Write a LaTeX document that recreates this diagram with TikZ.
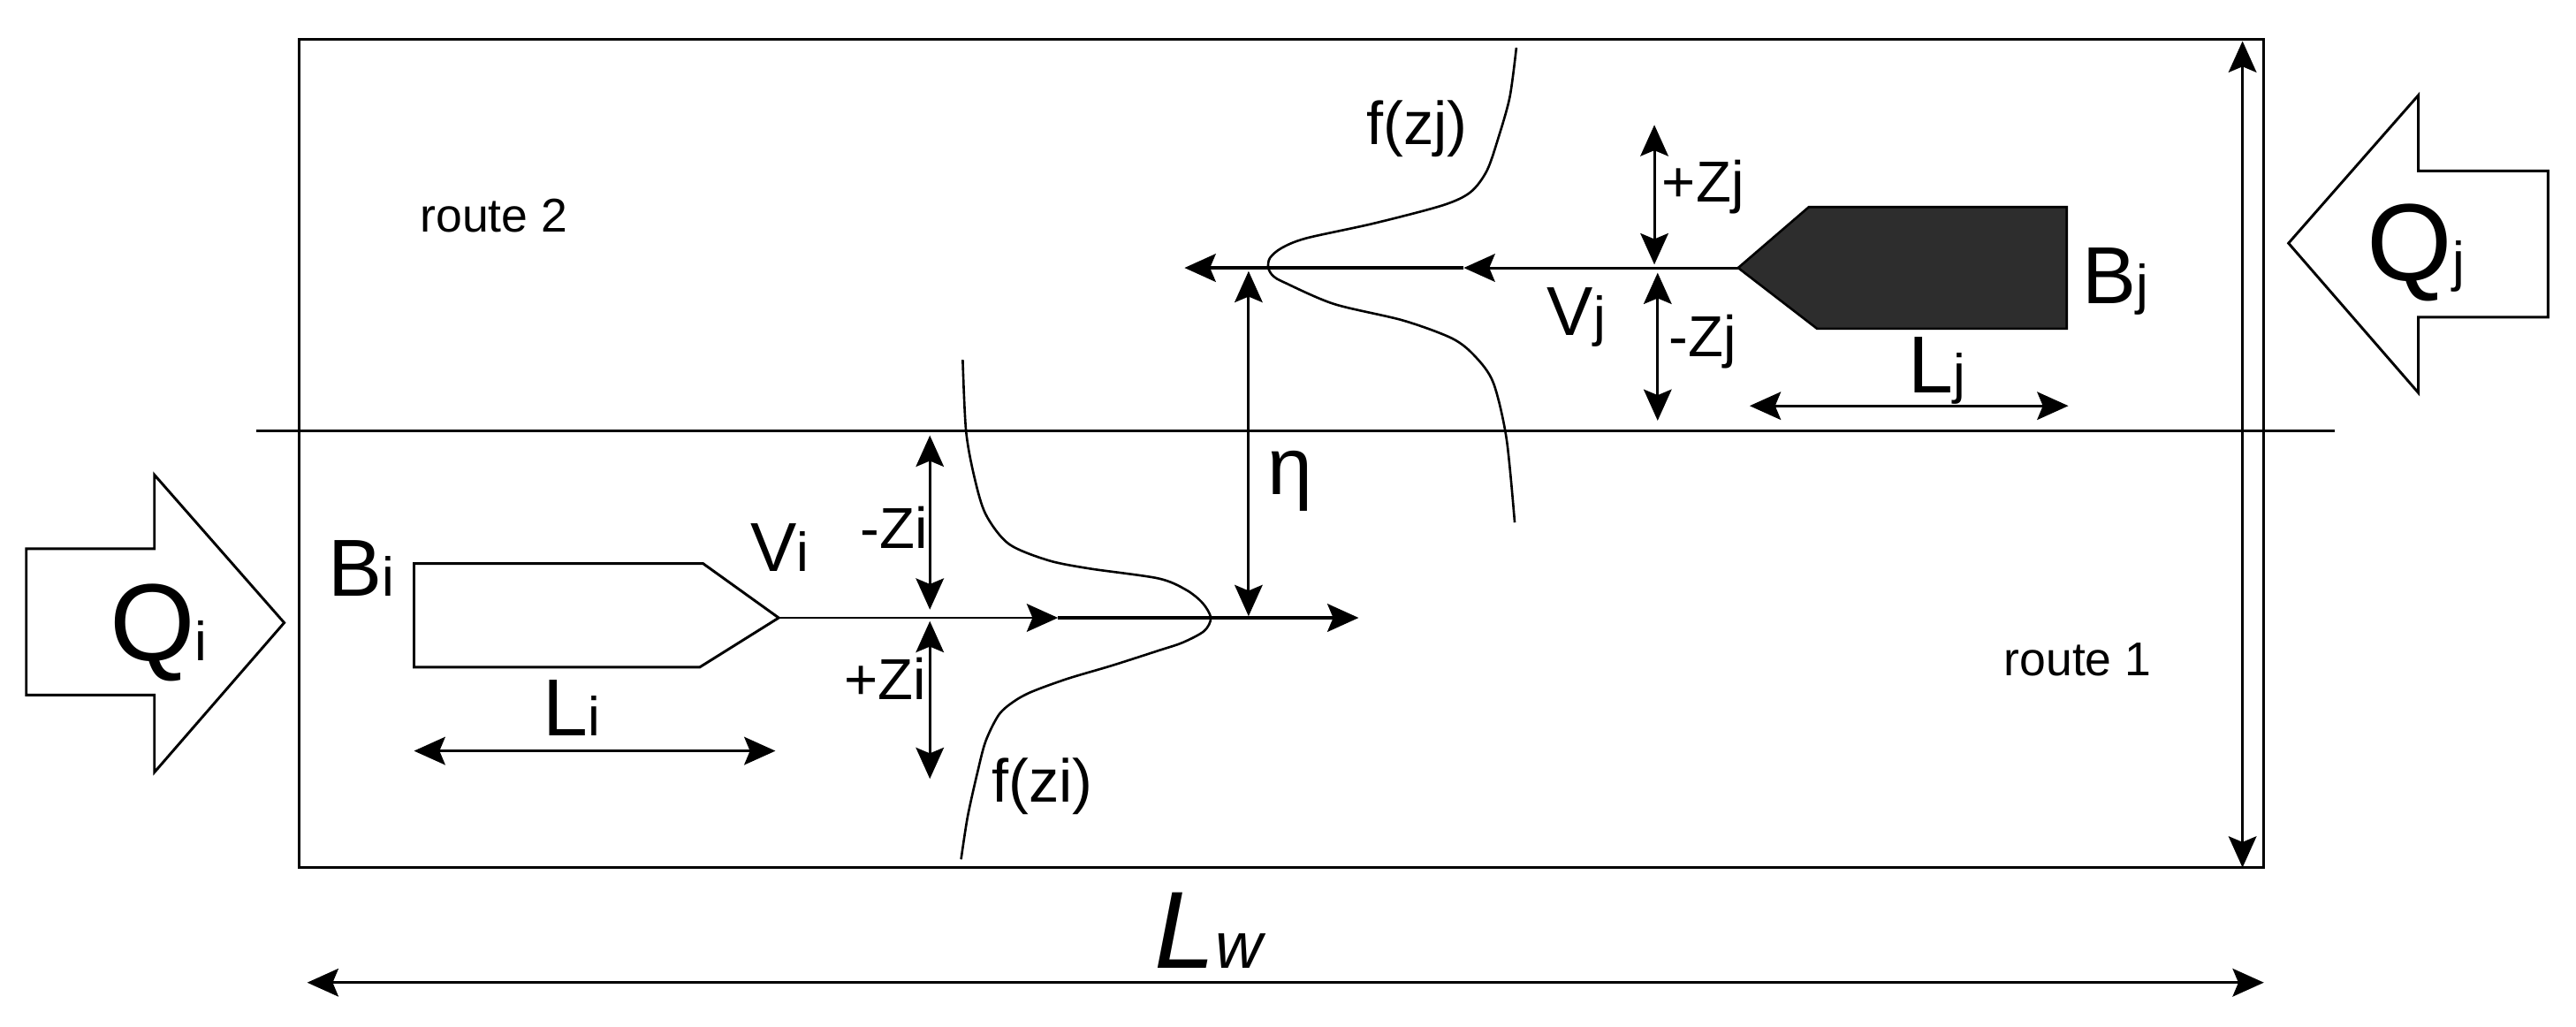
\documentclass[tikz,border=0pt]{standalone}
\usepackage{fontspec}
\setmainfont{Liberation Sans}
\usetikzlibrary{arrows.meta}
\definecolor{hull}{HTML}{2D2D2D}
\newcommand{\ix}[1]{{\fontsize{9.5}{9.5}\selectfont #1}}

\begin{document}
\begin{tikzpicture}[x=0.1mm,y=-0.1mm,line width=0.45pt,
	>={Stealth[length=1.9mm,width=1.7mm,inset=0.35mm]},
	lbl/.style={anchor=base west,inner sep=0pt},
	fntQ/.style={lbl,font=\fontsize{19}{19}\selectfont},
	fntB/.style={lbl,font=\fontsize{14}{14}\selectfont},
	fntV/.style={lbl,font=\fontsize{12}{12}\selectfont},
	fntZ/.style={lbl,font=\fontsize{10}{10}\selectfont},
	fntF/.style={lbl,font=\fontsize{10.5}{10.5}\selectfont},
	fntR/.style={lbl,font=\fontsize{8.2}{8.2}\selectfont},
	wake/.style={line width=0.6pt}]
\useasboundingbox (0,0) rectangle (1568,625);

\draw (182,24) rectangle (1378,528);
\draw (156,262) -- (1421,262);
\draw (16,334) -- (94,334) -- (94,289) -- (173,379) -- (94,470) -- (94,423) -- (16,423) -- cycle;
\draw (1393,148) -- (1472,58) -- (1472,104) -- (1551,104) -- (1551,193) -- (1472,193) -- (1472,239) -- cycle;
\draw (252,343) -- (428,343) -- (474,376) -- (426,406) -- (252,406) -- cycle;
\draw[fill=hull,thin] (1058,163) -- (1101,126) -- (1258,126) -- (1258,200) -- (1106,200) -- cycle;
\draw[thin] plot[smooth] coordinates {(586,219) (588,262) (593,290) (600,313) (614,331) (638,341)
	(663,346) (705,352) (722,359) (732,367) (737,376) (733,384) (720,391) (705,396) (677,405)
	(650,413) (628,421) (617,427) (608,435) (600,451) (595,470) (589,497) (585,523)};
\draw[thin] plot[smooth] coordinates {(923,29) (919,59) (912,84) (905,104) (895,117) (878,125)
	(836,136) (795,145) (780,151) (773,157) (772,163) (775,168) (782,172) (812,185) (854,195)
	(884,206) (898,217) (909,233) (917,267) (922,318)};

\coordinate (bowi)	at (474,376);
\coordinate (vi1)	at (644,376);
\coordinate (vi2)	at (827,376);
\coordinate (bowj)	at (1058,163);
\coordinate (vj1)	at (891,163);
\coordinate (vj2)	at (721,163);
\coordinate (li1)	at (252,457);
\coordinate (li2)	at (472,457);
\coordinate (lj1)	at (1065,247);
\coordinate (lj2)	at (1259,247);
\coordinate (lw1)	at (187,598);
\coordinate (lw2)	at (1378,598);
\coordinate (wd1)	at (1365,25);
\coordinate (wd2)	at (1365,528);
\coordinate (zi1)	at (566,265);
\coordinate (zi2)	at (566,371);
\coordinate (zi3)	at (566,378);
\coordinate (zi4)	at (566,474);
\coordinate (zj1)	at (1007,76);
\coordinate (zj2)	at (1007,161);
\coordinate (zj3)	at (1009,166);
\coordinate (zj4)	at (1009,256);
\coordinate (eta1)	at (760,165);
\coordinate (eta2)	at (760,375);

\path[->]	(bowi)	edge 		(vi1)
		(vi1)	edge [wake]	(vi2)
		(bowj)	edge 		(vj1)
		(vj1)	edge [wake]	(vj2);
\path[<->]	(li1)	edge	(li2)
		(lj1)	edge	(lj2)
		(lw1)	edge	(lw2)
		(wd1)	edge	(wd2)
		(zi1)	edge	(zi2)
		(zi3)	edge	(zi4)
		(zj1)	edge	(zj2)
		(zj3)	edge	(zj4)
		(eta1)	edge	(eta2);

\node[fntQ]	(qi)	at (66,402)	{Q\ix{i}};
\node[fntQ]	(qj)	at (1440,171)	{Q\ix{j}};
\node[fntB]	(bi)	at (199,363)	{B\ix{i}};
\node[fntB]	(bj)	at (1267,185)	{B\ix{j}};
\node[fntB]	(li)	at (330,448)	{L\ix{i}};
\node[fntB]	(lj)	at (1161,239)	{L\ix{j}};
\node[fntV]	(vi)	at (456,348)	{V\ix{i}};
\node[fntV]	(vj)	at (941,204)	{V\ix{j}};
\node[fntZ]	(mzi)	at (523,334)	{-Zi};
\node[fntZ]	(pzi)	at (513,426)	{+Zi};
\node[fntZ]	(pzj)	at (1011,123)	{+Zj};
\node[fntZ]	(mzj)	at (1015,217)	{-Zj};
\node[fntF]	(fzi)	at (603,488)	{f(zi)};
\node[fntF]	(fzj)	at (831,88)	{f(zj)};
\node[lbl,font=\fontsize{14}{14}\selectfont]	(eta)	at (771,301)	{η};
\node[fntR]	(r2)	at (255,141)	{route 2};
\node[fntR]	(r1)	at (1219,411)	{route 1};
\node[lbl,font=\fontsize{19}{19}\selectfont\itshape]	(lw)	at (702,589)	{L{\fontsize{11.3}{11.3}\selectfont w}};
\end{tikzpicture}
\end{document}
